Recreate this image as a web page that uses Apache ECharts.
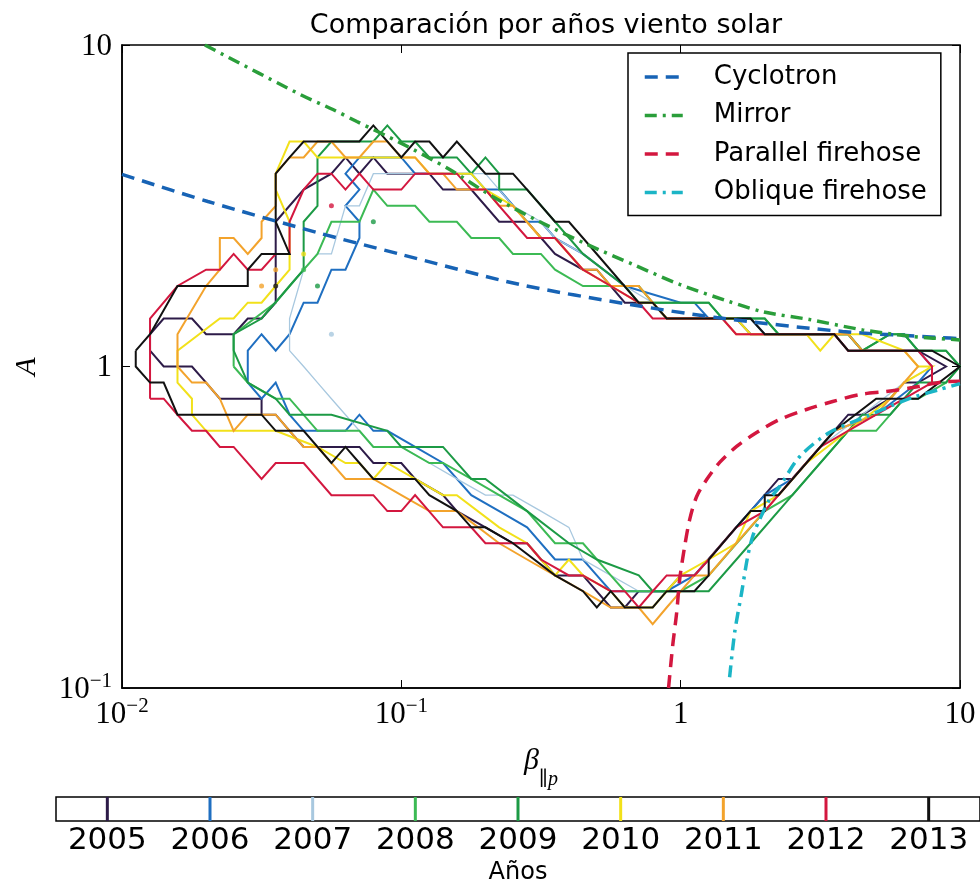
<!DOCTYPE html>
<html><head><meta charset="utf-8">
<script src="https://cdn.jsdelivr.net/npm/echarts@6/dist/echarts.min.js"></script>
<style>html,body{margin:0;padding:0;background:#fff}#c{width:980px;height:883px}</style>
</head><body><div id="c"></div>
<script>
// ---------- DATA ----------
const years = ['2005','2006','2007','2008','2009','2010','2011','2012','2013'];
const xTicks = [0.01, 0.1, 1, 10];
const yTicks = [0.1, 1, 10];

// contours [beta_par, A]
const c2005 = [[0.0126,1.12],[0.0126,1.26],[0.0141,1.41],[0.0178,1.41],[0.02,1.26],[0.0251,1.26],[0.0282,1.41],[0.0316,1.41],[0.0355,1.58],[0.0355,2.82],[0.0447,3.55],[0.0562,3.98],[0.0631,4.47],[0.0708,3.98],[0.0794,4.47],[0.0891,3.98],[0.126,3.98],[0.141,3.55],[0.178,3.55],[0.224,2.82],[0.282,2.82],[0.355,2.24],[0.447,2.0],[0.501,2.0],[0.631,1.58],[0.794,1.58],[0.891,1.41],[1.58,1.41],[1.78,1.26],[3.55,1.26],[3.98,1.12],[7.08,1.12],[8.91,1],[7.08,0.891],[6.31,0.891],[5.62,0.794],[4.47,0.708],[3.98,0.708],[3.16,0.562],[2.51,0.447],[2.24,0.447],[1.78,0.355],[1.41,0.282],[1.12,0.224],[1,0.224],[0.891,0.2],[0.708,0.2],[0.631,0.178],[0.562,0.178],[0.447,0.224],[0.355,0.224],[0.282,0.282],[0.251,0.282],[0.2,0.316],[0.158,0.355],[0.141,0.398],[0.112,0.447],[0.1,0.501],[0.0794,0.501],[0.0708,0.562],[0.0447,0.562],[0.0398,0.631],[0.0355,0.708],[0.0316,0.708],[0.0316,0.794],[0.0224,0.794],[0.02,0.891],[0.0178,1],[0.0141,1],[0.0126,1.12]];
const c2006 = [[0.0282,1],[0.0282,1.12],[0.0316,1.26],[0.0355,1.12],[0.0398,1.26],[0.0447,1.58],[0.0501,1.58],[0.0562,2.0],[0.0631,2.0],[0.0708,2.51],[0.0708,2.82],[0.0631,3.16],[0.0708,3.55],[0.0631,3.98],[0.0708,4.47],[0.1,4.47],[0.112,3.98],[0.178,3.98],[0.2,3.55],[0.224,3.55],[0.282,2.82],[0.316,2.82],[0.355,2.51],[0.447,2.24],[0.631,1.78],[1,1.58],[1.12,1.58],[1.26,1.41],[1.78,1.41],[2.0,1.26],[3.98,1.26],[4.47,1.12],[7.08,1.12],[7.94,1],[7.08,0.891],[5.01,0.708],[3.55,0.631],[2.51,0.447],[2.0,0.398],[1.58,0.316],[1.26,0.251],[1.12,0.224],[0.891,0.2],[0.562,0.2],[0.501,0.224],[0.447,0.251],[0.355,0.251],[0.282,0.316],[0.224,0.355],[0.178,0.398],[0.141,0.501],[0.0891,0.631],[0.0794,0.631],[0.0708,0.708],[0.0631,0.631],[0.0447,0.631],[0.0398,0.708],[0.0355,0.891],[0.0316,0.794],[0.0282,0.891],[0.0282,1]];
const c2007 = [[0.0398,1.12],[0.0398,1.41],[0.0447,2.0],[0.0501,2.24],[0.0562,2.24],[0.0631,3.16],[0.0708,3.16],[0.0794,3.98],[0.2,3.98],[0.251,3.16],[0.316,2.82],[0.355,2.51],[0.447,2.24],[0.631,1.78],[0.794,1.58],[0.891,1.41],[1.78,1.41],[2.0,1.26],[3.98,1.26],[4.47,1.12],[7.08,1.12],[7.94,1],[6.31,0.891],[4.47,0.708],[3.16,0.562],[2.24,0.398],[1.78,0.355],[1.41,0.282],[1.12,0.224],[1,0.2],[0.708,0.2],[0.562,0.224],[0.447,0.251],[0.398,0.316],[0.316,0.355],[0.251,0.398],[0.2,0.398],[0.158,0.447],[0.126,0.501],[0.1,0.562],[0.0794,0.562],[0.0631,0.708],[0.0562,0.794],[0.0501,0.891],[0.0447,1],[0.0398,1.12]];
const c2008 = [[0.0251,1],[0.0251,1.26],[0.0355,1.58],[0.0398,1.78],[0.0447,2.0],[0.0501,2.24],[0.0562,2.82],[0.0708,2.82],[0.0794,3.55],[0.0891,3.16],[0.112,3.16],[0.126,2.82],[0.158,2.82],[0.178,2.51],[0.224,2.51],[0.251,2.24],[0.316,2.24],[0.355,2.0],[0.447,1.78],[0.631,1.78],[0.708,1.58],[1.26,1.58],[1.41,1.41],[2.0,1.41],[2.24,1.26],[3.98,1.26],[4.47,1.12],[5.62,1.26],[6.31,1.26],[7.08,1.12],[8.91,1.12],[10,1],[8.91,0.891],[7.08,0.794],[6.31,0.794],[5.01,0.631],[3.98,0.631],[2.51,0.398],[2.0,0.355],[1.78,0.316],[1.26,0.224],[1,0.2],[0.631,0.2],[0.562,0.224],[0.447,0.282],[0.355,0.282],[0.282,0.355],[0.224,0.398],[0.178,0.447],[0.141,0.501],[0.126,0.501],[0.1,0.562],[0.0794,0.562],[0.0708,0.631],[0.0501,0.631],[0.0398,0.794],[0.0355,0.794],[0.0282,0.891],[0.0251,1]];
const c2009 = [[0.0251,1.12],[0.0251,1.26],[0.0316,1.41],[0.0398,1.78],[0.0447,2.0],[0.0447,2.82],[0.0501,3.16],[0.0501,4.47],[0.0562,5.01],[0.0794,5.01],[0.0891,5.62],[0.1,5.01],[0.112,5.01],[0.126,4.47],[0.158,4.47],[0.178,3.98],[0.2,4.47],[0.224,3.98],[0.224,3.55],[0.282,3.55],[0.355,2.82],[0.447,2.24],[0.631,1.78],[0.708,1.78],[0.794,1.58],[1.26,1.58],[1.41,1.41],[2.0,1.41],[2.24,1.26],[3.98,1.26],[4.47,1.12],[5.62,1.26],[6.31,1.26],[7.08,1.12],[8.91,1.12],[10,1],[8.91,0.891],[7.08,0.891],[5.62,0.708],[4.47,0.708],[2.82,0.447],[2.51,0.398],[1.78,0.282],[1.26,0.2],[0.794,0.2],[0.708,0.224],[0.501,0.251],[0.398,0.282],[0.282,0.355],[0.2,0.447],[0.178,0.447],[0.141,0.562],[0.1,0.562],[0.0891,0.631],[0.0562,0.708],[0.0398,0.708],[0.0355,0.794],[0.0282,0.891],[0.0251,1.12]];
const c2010 = [[0.0158,1],[0.0158,1.12],[0.0224,1.41],[0.0251,1.41],[0.0282,1.58],[0.0316,1.58],[0.0355,1.78],[0.0398,2.0],[0.0398,2.82],[0.0355,3.55],[0.0355,3.98],[0.0398,5.01],[0.0447,5.01],[0.0501,4.47],[0.112,4.47],[0.126,3.98],[0.178,3.98],[0.2,3.55],[0.251,3.16],[0.316,2.51],[0.355,2.51],[0.447,2.0],[0.562,1.78],[0.708,1.58],[0.794,1.58],[0.891,1.41],[1.58,1.41],[1.78,1.26],[2.82,1.26],[3.16,1.12],[3.55,1.26],[4.47,1.26],[6.31,1.12],[7.08,1],[7.94,1],[6.31,0.891],[5.62,0.794],[3.98,0.631],[2.82,0.501],[2.24,0.398],[1.78,0.355],[1.58,0.282],[1.26,0.251],[1,0.224],[0.891,0.2],[0.794,0.178],[0.631,0.178],[0.562,0.2],[0.447,0.224],[0.398,0.251],[0.355,0.224],[0.316,0.251],[0.282,0.282],[0.224,0.316],[0.158,0.398],[0.141,0.398],[0.112,0.447],[0.0891,0.501],[0.0794,0.447],[0.0708,0.501],[0.0631,0.501],[0.0501,0.562],[0.0355,0.631],[0.02,0.631],[0.0178,0.708],[0.0178,0.794],[0.0158,0.891],[0.0158,1]];
const c2011 = [[0.0158,1],[0.0158,1.26],[0.02,1.78],[0.0224,2.0],[0.0224,2.51],[0.0251,2.51],[0.0282,2.24],[0.0316,2.51],[0.0316,2.82],[0.0355,3.16],[0.0355,3.98],[0.0398,4.47],[0.0447,4.47],[0.0501,5.01],[0.0562,5.01],[0.0631,4.47],[0.0708,4.47],[0.0794,5.01],[0.0891,5.01],[0.1,4.47],[0.112,4.47],[0.126,3.98],[0.141,3.98],[0.158,3.55],[0.2,3.55],[0.224,3.16],[0.251,3.16],[0.316,2.51],[0.355,2.51],[0.447,2.0],[0.501,2.0],[0.562,1.78],[0.708,1.78],[0.794,1.58],[0.891,1.41],[1.41,1.41],[1.58,1.26],[3.98,1.26],[4.47,1.12],[6.31,1.12],[7.08,1],[5.62,0.794],[5.01,0.708],[3.55,0.631],[2.82,0.501],[2.24,0.398],[1.58,0.282],[1.26,0.224],[1.12,0.224],[0.891,0.178],[0.794,0.158],[0.708,0.178],[0.562,0.178],[0.447,0.2],[0.355,0.224],[0.282,0.251],[0.224,0.282],[0.158,0.355],[0.126,0.355],[0.1,0.398],[0.0794,0.447],[0.0631,0.447],[0.0501,0.562],[0.0447,0.562],[0.0398,0.631],[0.0355,0.708],[0.0282,0.708],[0.0251,0.631],[0.0224,0.794],[0.02,0.891],[0.0178,0.891],[0.0158,1]];
const c2012 = [[0.0126,0.794],[0.0126,1.41],[0.0158,1.78],[0.02,2.0],[0.0224,2.0],[0.0251,2.24],[0.0282,2.0],[0.0316,2.0],[0.0355,2.24],[0.0398,2.24],[0.0398,2.82],[0.0447,3.55],[0.0501,3.98],[0.0562,3.98],[0.0631,3.55],[0.0708,3.98],[0.0794,3.55],[0.1,3.55],[0.112,3.98],[0.158,3.98],[0.178,3.55],[0.2,3.55],[0.224,3.16],[0.251,2.82],[0.282,2.51],[0.355,2.51],[0.398,2.24],[0.447,2.0],[0.562,1.78],[0.708,1.58],[0.794,1.41],[1.41,1.41],[1.58,1.26],[3.55,1.26],[3.98,1.12],[7.08,1.12],[7.94,1],[7.94,0.891],[6.31,0.794],[5.01,0.708],[3.16,0.562],[2.51,0.447],[2.0,0.355],[1.58,0.316],[1.26,0.251],[1.12,0.224],[0.891,0.224],[0.794,0.2],[0.708,0.178],[0.631,0.2],[0.562,0.2],[0.447,0.224],[0.398,0.224],[0.316,0.251],[0.282,0.282],[0.2,0.282],[0.178,0.316],[0.141,0.316],[0.112,0.398],[0.1,0.355],[0.0891,0.355],[0.0794,0.398],[0.0562,0.398],[0.0447,0.501],[0.0355,0.501],[0.0316,0.447],[0.0251,0.562],[0.0224,0.562],[0.02,0.631],[0.0178,0.631],[0.0158,0.708],[0.0141,0.794],[0.0126,0.794]];
const c2013 = [[0.0112,1.12],[0.0126,1.26],[0.0158,1.78],[0.0282,1.78],[0.0282,2.0],[0.0316,2.24],[0.0398,2.24],[0.0355,2.82],[0.0355,3.98],[0.0398,4.47],[0.0447,5.01],[0.0708,5.01],[0.0794,5.62],[0.1,4.47],[0.112,5.01],[0.126,5.01],[0.141,4.47],[0.158,5.01],[0.2,3.98],[0.251,3.98],[0.282,3.55],[0.355,2.82],[0.398,2.82],[0.447,2.51],[0.708,1.58],[0.794,1.58],[0.891,1.41],[1.78,1.41],[2.0,1.26],[3.55,1.26],[3.98,1.12],[7.94,1.12],[10,1],[7.08,0.794],[5.01,0.794],[3.55,0.631],[2.82,0.501],[2.24,0.398],[2.0,0.398],[2.0,0.355],[1.78,0.355],[1.58,0.316],[1.26,0.251],[1.26,0.224],[1.12,0.2],[0.891,0.2],[0.794,0.178],[0.631,0.178],[0.562,0.2],[0.501,0.178],[0.447,0.2],[0.355,0.224],[0.251,0.282],[0.2,0.316],[0.178,0.316],[0.158,0.355],[0.126,0.398],[0.112,0.447],[0.0794,0.447],[0.0708,0.501],[0.0631,0.562],[0.0562,0.501],[0.0447,0.631],[0.0355,0.631],[0.0316,0.708],[0.0158,0.708],[0.0141,0.891],[0.0126,0.891],[0.0112,1],[0.0112,1.12]];

// small isolated contour dots
const dotYear = ['2013','2011','2011','2012','2008','2009','2009','2010','2007'];
const dotBeta = [0.0355,0.0355,0.0316,0.0562,0.0447,0.0501,0.0794,0.0447,0.0562];
const dotA = [1.78,2.0,1.78,3.16,2.0,1.78,2.82,2.24,1.26];

// instability thresholds [beta_par, A]
const cyclotron = [[0.01,3.96],[0.0203,3.26],[0.05,2.61],[0.1,2.23],[0.265,1.80],[0.657,1.56],[1.345,1.42],[3.80,1.285],[8.65,1.23],[10,1.22]];
const mirror = [[0.0198,10],[0.0434,7.02],[0.0569,6.30],[0.0693,5.78],[0.0989,4.97],[0.149,4.10],[0.212,3.38],[0.313,2.82],[0.461,2.40],[0.673,2.08],[0.992,1.80],[1.50,1.59],[1.97,1.48],[2.89,1.40],[4.48,1.30],[6.76,1.24],[10,1.21]];
const parallelFirehose = [[0.905,0.1],[0.936,0.135],[0.968,0.172],[0.992,0.218],[1.033,0.275],[1.077,0.334],[1.141,0.394],[1.239,0.445],[1.379,0.503],[1.586,0.564],[1.870,0.623],[2.26,0.684],[2.82,0.735],[3.50,0.778],[4.37,0.818],[5.45,0.836],[6.76,0.860],[8.95,0.898],[10,0.90]];
const obliqueFirehose = [[1.497,0.108],[1.561,0.149],[1.653,0.198],[1.737,0.256],[1.810,0.296],[1.917,0.334],[2.08,0.386],[2.26,0.423],[2.67,0.525],[3.41,0.623],[4.63,0.699],[5.59,0.751],[6.76,0.801],[8.45,0.848],[10,0.885]];

// ---------- STYLES ----------
const yearColor = {'2005':'#2d1b48','2006':'#1f6fc1','2007':'#a8c8df','2008':'#3cba54','2009':'#1c9a45','2010':'#f2e11a','2011':'#f3a32c','2012':'#d3173f','2013':'#111111'};
const contours = {'2005':c2005,'2006':c2006,'2007':c2007,'2008':c2008,'2009':c2009,'2010':c2010,'2011':c2011,'2012':c2012,'2013':c2013};
const serif = "'Liberation Serif', 'DejaVu Serif', serif";
const sans = "'DejaVu Sans', sans-serif";

function powLabel(v){
  const e = Math.round(Math.log10(v));
  if (e === 0) return '{b|1}';
  if (e === 1) return '{b|10}';
  return '{b|10}{s|\u2212' + (-e) + '}';
}
const richTick = {
  b:{fontFamily:serif, fontSize:31, lineHeight:34, verticalAlign:'bottom', color:'#000'},
  s:{fontFamily:serif, fontSize:21, lineHeight:20, verticalAlign:'top', color:'#000'}
};

const series = [];
years.forEach(y => {
  series.push({
    type:'line', name:y, data:contours[y], xAxisIndex:0, yAxisIndex:0,
    symbol:'none', silent:true, animation:false, z:2,
    lineStyle:{color:yearColor[y], width: y==='2007' ? 1.3 : 2, join:'miter'}
  });
});
series.push({
  type:'scatter', name:'dots', xAxisIndex:0, yAxisIndex:0, silent:true, animation:false, z:2,
  symbolSize:5,
  data: dotBeta.map((b,k)=>({value:[b,dotA[k]], itemStyle:{color:yearColor[dotYear[k]]}}))
});
const th = [
  ['Cyclotron', cyclotron, '#1763b5', [13,8]],
  ['Mirror', mirror, '#2a9e3a', [12,6,3,6]],
  ['Parallel firehose', parallelFirehose, '#d3173f', [13,8]],
  ['Oblique firehose', obliqueFirehose, '#1bb5c6', [12,6,3,6]]
];
th.forEach(t => {
  series.push({
    type:'line', name:t[0], data:t[1], xAxisIndex:0, yAxisIndex:0, smooth:0.3,
    symbol:'none', silent:true, animation:false, z:4,
    itemStyle:{color:t[2]},
    lineStyle:{color:t[2], width:3.5, type:t[3]}
  });
});
// colorbar lines
series.push({
  type:'bar', name:'cbar', xAxisIndex:2, yAxisIndex:2, barWidth:3, silent:true, animation:false,
  data: years.map(y => ({value:1, itemStyle:{color:yearColor[y]}}))
});

const chart = echarts.init(document.getElementById('c'), null, {renderer:'canvas'});
chart.setOption({
  backgroundColor:'#fff',
  animation:false,
  title:{text:'Comparación por años viento solar', left:541, top:7, textAlign:'center',
    textStyle:{fontFamily:sans, fontSize:27, fontWeight:'normal', color:'#000'}},
  legend:{
    data:['Cyclotron','Mirror','Parallel firehose','Oblique firehose'],
    orient:'vertical', left:628, top:53, selectedMode:false,
    backgroundColor:'#fff', borderColor:'#000', borderWidth:1.5, borderRadius:0,
    padding:[9,14,8,15], itemWidth:38, itemHeight:14, itemGap:8.5,
    itemStyle:{opacity:0},
    lineStyle:{width:3.5},
    textStyle:{fontFamily:sans, fontSize:26, color:'#000', lineHeight:30, padding:[0,0,0,26]},
    z:10
  },
  grid:[
    {left:122, right:20, top:45, bottom:195, show:true, borderColor:'#000', borderWidth:1.5, backgroundColor:'transparent', outerBoundsMode:'none', containLabel:false},
    {left:56, right:0, top:797, height:24, show:true, borderColor:'#000', borderWidth:1.5, outerBoundsMode:'none', containLabel:false}
  ],
  xAxis:[
    {type:'log', logBase:10, min:0.01, max:10, gridIndex:0, position:'bottom',
     axisLine:{show:true, lineStyle:{color:'#000', width:1.5}},
     axisTick:{show:true, inside:true, length:8, lineStyle:{color:'#000', width:1}},
     splitLine:{show:false},
     axisLabel:{formatter:powLabel, margin:8, rich:richTick, showMinLabel:true, showMaxLabel:true},
     name:'{g|β}{p|\u2225p}', nameLocation:'middle', nameGap:58,
     nameTextStyle:{rich:{
       g:{fontFamily:serif, fontStyle:'italic', fontSize:30, lineHeight:34, verticalAlign:'top', color:'#000'},
       p:{fontFamily:serif, fontStyle:'italic', fontSize:20, lineHeight:44, verticalAlign:'bottom', color:'#000'}}}},
    {type:'log', logBase:10, min:0.01, max:10, gridIndex:0, position:'top',
     axisLine:{show:false}, axisTick:{show:true, inside:true, length:8, lineStyle:{color:'#000', width:1}},
     splitLine:{show:false}, axisLabel:{show:false}},
    {type:'category', data:years, gridIndex:1, position:'bottom', boundaryGap:true,
     axisLine:{show:false}, axisTick:{show:false}, splitLine:{show:false},
     axisLabel:{fontFamily:sans, fontSize:31, color:'#000', margin:4, interval:0},
     name:'Años', nameLocation:'middle', nameGap:40,
     nameTextStyle:{fontFamily:sans, fontSize:24, color:'#000'}}
  ],
  yAxis:[
    {type:'log', logBase:10, min:0.1, max:10, gridIndex:0, position:'left',
     axisLine:{show:true, lineStyle:{color:'#000', width:1.5}},
     axisTick:{show:true, inside:true, length:8, lineStyle:{color:'#000', width:1}},
     splitLine:{show:false},
     axisLabel:{formatter:powLabel, margin:10, rich:richTick, showMinLabel:true, showMaxLabel:true},
     name:'A', nameLocation:'middle', nameRotate:90, nameGap:80,
     nameTextStyle:{fontFamily:serif, fontStyle:'italic', fontSize:30, color:'#000'}},
    {type:'log', logBase:10, min:0.1, max:10, gridIndex:0, position:'right',
     axisLine:{show:false}, axisTick:{show:true, inside:true, length:8, lineStyle:{color:'#000', width:1}},
     splitLine:{show:false}, axisLabel:{show:false}},
    {type:'value', min:0, max:1, gridIndex:1, show:false}
  ],
  series: series
});
</script>
</body></html>
